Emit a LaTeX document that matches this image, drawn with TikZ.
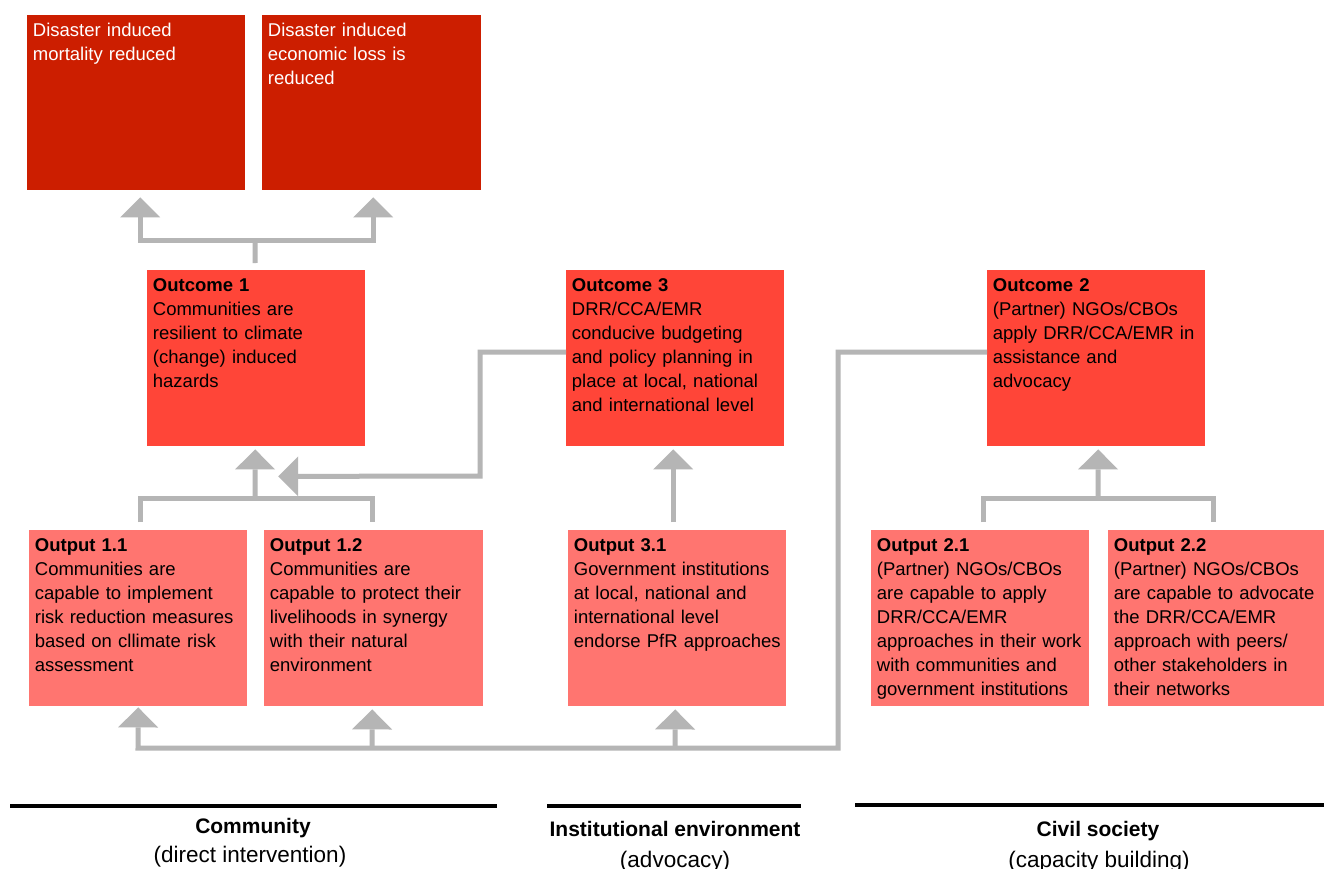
\documentclass[tikz,border=0pt]{standalone}
\usepackage{fontspec}
\setmainfont{Liberation Sans}
\usetikzlibrary{arrows.meta,calc}
\definecolor{topred}{RGB}{204,30,0}
\definecolor{outcred}{RGB}{255,69,56}
\definecolor{outpred}{RGB}{255,117,112}
\definecolor{conngray}{RGB}{181,181,181}
\tikzset{
  box/.style={anchor=north west, inner sep=0pt, minimum width=218pt, minimum height=176pt},
  topbox/.style={box, fill=topred, minimum height=175pt},
  outcbox/.style={box, fill=outcred},
  outpbox/.style={box, fill=outpred},
  txt/.style={anchor=north west, inner sep=0pt, text width=212pt, align=left,
    font=\fontsize{18.5}{24}\selectfont},
  conn/.style={draw=conngray, line width=5pt, line join=miter},
  arr/.style={conn, -{Triangle[width=40pt,length=20pt,line width=0pt]}},
  labb/.style={anchor=base, inner sep=0pt, font=\fontsize{21}{24}\selectfont\bfseries},
  labr/.style={anchor=base, inner sep=0pt, font=\fontsize{22.5}{24}\selectfont},
  rulebar/.style={line width=4pt, black}
}
\newcommand{\fl}{\rule{0pt}{14pt}}
\begin{document}
\begin{tikzpicture}[x=1pt,y=-1pt]
\fill[white] (0,0) rectangle (1324,868);
\useasboundingbox (0,0) rectangle (1324,868);

% boxes
\node[topbox] (t1) at (27,15) {};
\node[topbox, minimum width=219pt] (t2) at (262,15) {};
\node[outcbox] (o1) at (147,270) {};
\node[outcbox] (o3) at (566,270) {};
\node[outcbox] (o2) at (987,270) {};
\node[outpbox] (p11) at (29,530) {};
\node[outpbox, minimum width=219pt] (p12) at (264,530) {};
\node[outpbox] (p31) at (568,530) {};
\node[outpbox] (p21) at (871,530) {};
\node[outpbox, minimum width=216pt] (p22) at (1108,530) {};

% texts
\node[txt, text=white] (t1x) at ($(t1.north west)+(5.7,7.7)$) {\fl Disaster induced\\mortality reduced};
\node[txt, text=white] (t2x) at ($(t2.north west)+(5.7,7.7)$) {\fl Disaster induced\\economic loss is\\reduced};
\node[txt] (o1x) at ($(o1.north west)+(5.7,7.7)$) {\fl\textbf{Outcome 1}\\Communities are\\resilient to climate\\(change) induced\\hazards};
\node[txt] (o3x) at ($(o3.north west)+(5.7,7.7)$) {\fl\textbf{Outcome 3}\\DRR/CCA/EMR\\conducive budgeting\\and policy planning in\\place at local, national\\and international level};
\node[txt] (o2x) at ($(o2.north west)+(5.7,7.7)$) {\fl\textbf{Outcome 2}\\(Partner) NGOs/CBOs\\apply DRR/CCA/EMR in\\assistance and\\advocacy};
\node[txt] (p11x) at ($(p11.north west)+(5.7,7.7)$) {\fl\textbf{Output 1.1}\\Communities are\\capable to implement\\risk reduction measures\\based on cllimate risk\\assessment};
\node[txt] (p12x) at ($(p12.north west)+(5.7,7.7)$) {\fl\textbf{Output 1.2}\\Communities are\\capable to protect their\\livelihoods in synergy\\with their natural\\environment};
\node[txt] (p31x) at ($(p31.north west)+(5.7,7.7)$) {\fl\textbf{Output 3.1}\\Government institutions\\at local, national and\\international level\\endorse PfR approaches};
\node[txt] (p21x) at ($(p21.north west)+(5.7,7.7)$) {\fl\textbf{Output 2.1}\\(Partner) NGOs/CBOs\\are capable to apply\\DRR/CCA/EMR\\approaches in their work\\with communities and\\government institutions};
\node[txt] (p22x) at ($(p22.north west)+(5.7,7.7)$) {\fl\textbf{Output 2.2}\\(Partner) NGOs/CBOs\\are capable to advocate\\the DRR/CCA/EMR\\approach with peers/\\other stakeholders in\\their networks};

% junctions
\coordinate (j1) at (255,240);
\coordinate (j2) at (255,498);
\coordinate (j3) at (1098,498);
\coordinate (k1) at (480,476);
\coordinate (b1) at (138,748);
\coordinate (b2) at (838,748);
\coordinate (b3) at (372,748);
\coordinate (b4) at (675,748);

% outcome 1 -> impacts
\draw[conn] ($(o1.north)+(-1,-7)$) -- (j1);
\draw[arr] (j1) -| ($(t1.south)+(4,7)$);
\draw[arr] (j1) -| ($(t2.south)+(1.5,7)$);

% outputs 1.x -> outcome 1
\draw[conn] ($(p11.north)+(2,-8)$) |- (j2) -| ($(p12.north)+(-1.5,-8)$);
\draw[arr] (j2) -- ($(o1.south)+(-1,3)$);

% outcome 3 -> outcome 1
\draw[arr] ($(o3.west)+(0,-6)$) -| (k1) -- ($(o1.south)+(22,30)$);

% output 3.1 -> outcome 3
\draw[arr] ($(p31.north)+(-4,-8)$) -- ($(o3.south)+(-2,3)$);

% outputs 2.x -> outcome 2
\draw[conn] ($(p21.north)+(3,-8)$) |- (j3) -| ($(p22.north)+(-3,-8)$);
\draw[arr] (j3) -- ($(o2.south)+(2,3)$);

% outcome 2 -> outputs (bottom bus)
\draw[arr] ($(o2.west)+(0,-6)$) -| (b2) -- (b1) -- ($(p11.south)+(0,1)$);
\draw[arr] (b3) -- ($(p12.south)+(-1.5,3)$);
\draw[arr] (b4) -- ($(p31.south)+(-2,3)$);

% bottom labels
\draw[rulebar] (10,805.5) -- (497,805.5);
\draw[rulebar] (547,805.5) -- (801,805.5);
\draw[rulebar] (855,805) -- (1324,805);
\node[labb] (l1a) at (253,833) {Community};
\node[labr] (l1b) at (250,862) {(direct intervention)};
\node[labb] (l2a) at (675,836) {Institutional environment};
\node[labr] (l2b) at (675,867) {(advocacy)};
\node[labb] (l3a) at (1098,836) {Civil society};
\node[labr] (l3b) at (1099,867) {(capacity building)};
\end{tikzpicture}
\end{document}
